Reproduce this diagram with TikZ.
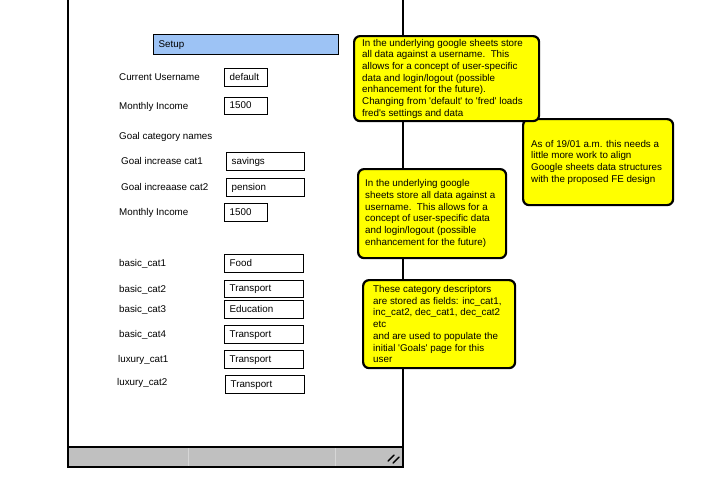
\documentclass[tikz,border=0pt]{standalone}
\usepackage{fontspec}
\setmainfont{Liberation Sans}
\usetikzlibrary{calc}
\definecolor{setupblue}{RGB}{157,195,245}
\definecolor{stickyyellow}{RGB}{255,255,0}
\definecolor{bargray}{RGB}{192,192,192}
\definecolor{seplight}{RGB}{214,214,214}
\tikzset{
  txt/.style={font=\fontsize{9.8}{11.7}\selectfont},
  lbl/.style={txt, anchor=west, inner sep=0pt, text height=7pt, text depth=2pt},
  field/.style={txt, draw=black, line width=1.3pt, fill=white, anchor=north west,
    inner xsep=5pt, inner ysep=0pt, align=left, text height=7pt, text depth=2pt},
  notebox/.style={draw=black, line width=2.2pt, fill=stickyyellow, rounded corners=6pt,
    anchor=north west, inner sep=0pt},
  notetext/.style={txt, anchor=west, inner sep=0pt, align=left},
  frame/.style={draw=black, line width=1.5pt},
}
\begin{document}
\begin{tikzpicture}[x=1pt,y=-1pt]
\useasboundingbox (0,0) rectangle (719,488);
% window
\coordinate (wtl) at (68,0);
\coordinate (wtr) at (403,0);
\coordinate (wbl) at (68,467);
\coordinate (wbr) at (403,467);
\coordinate (bartl) at (68,447);
\draw[frame] (wtl) -- (wbl);
\draw[frame] (wtr) -- (wbr);
\draw[frame, fill=bargray] (bartl) rectangle (wbr);
\coordinate (s1t) at (188,448);
\coordinate (s1b) at (188,466);
\coordinate (s2t) at (335,448);
\coordinate (s2b) at (335,466);
\draw[seplight, line width=0.6pt] (s1t) -- (s1b);
\draw[seplight, line width=0.6pt] (s2t) -- (s2b);
\coordinate (g1a) at (388,461); \coordinate (g1b) at (394,455);
\coordinate (g2a) at (393,463); \coordinate (g2b) at (399,457);
\draw[line width=1.4pt, line cap=round] (g1a) -- (g1b);
\draw[line width=1.4pt, line cap=round] (g2a) -- (g2b);

% setup bar
\node[field, fill=setupblue, line width=1.2pt, minimum width=185pt, text width=175pt, minimum height=20pt] (setup) at (153,34) {Setup};

% labels
\node[lbl] (l1) at (119,77.5) {Current Username};
\node[lbl] (l2) at (119,106.5) {Monthly Income};
\node[lbl] (l3) at (119,136.5) {Goal category names};
\node[lbl] (l4) at (121,161.5) {Goal increase cat1};
\node[lbl] (l5) at (121,187.5) {Goal increaase cat2};
\node[lbl] (l6) at (119,212.5) {Monthly Income};
\node[lbl] (l7) at (119,263.5) {basic\_cat1};
\node[lbl] (l8) at (119,289.5) {basic\_cat2};
\node[lbl] (l9) at (119,309.5) {basic\_cat3};
\node[lbl] (l10) at (119,334.5) {basic\_cat4};
\node[lbl] (l11) at (118,359.5) {luxury\_cat1};
\node[lbl] (l12) at (117,382.5) {luxury\_cat2};

% fields
\node[field, minimum width=43pt, text width=33pt, minimum height=18pt] (f1) at (224,68) {default};
\node[field, minimum width=43pt, text width=33pt, minimum height=17pt] (f2) at (224,97) {1500};
\node[field, minimum width=78pt, text width=68pt, minimum height=18pt] (f3) at (226,152) {savings};
\node[field, minimum width=78pt, text width=68pt, minimum height=18pt] (f4) at (226,178) {pension};
\node[field, minimum width=43pt, text width=33pt, minimum height=18pt] (f5) at (224,203) {1500};
\node[field, minimum width=79pt, text width=69pt, minimum height=18pt] (f6) at (224,254) {Food};
\node[field, minimum width=79pt, text width=69pt, minimum height=17pt] (f7) at (224,280) {Transport};
\node[field, minimum width=79pt, text width=69pt, minimum height=18pt] (f8) at (224,300) {Education};
\node[field, minimum width=79pt, text width=69pt, minimum height=18pt] (f9) at (224,325) {Transport};
\node[field, minimum width=79pt, text width=69pt, minimum height=18pt] (f10) at (224,350) {Transport};
\node[field, minimum width=79pt, text width=69pt, minimum height=18pt] (f11) at (225,375) {Transport};

% sticky notes
\node[notebox, minimum width=150pt, minimum height=86pt] (n2) at (522,118) {};
\node[notetext] (t2) at ($(n2.west)+(9,0)$) {As of 19/01 a.m. this needs a\\little more work to align\\Google sheets data structures\\with the proposed FE design};

\node[notebox, minimum width=185pt, minimum height=85pt] (n1) at (353,35) {};
\node[notetext] (t1) at ($(n1.west)+(9,0)$) {In the underlying google sheets store\\all data against a username.\ \ This\\allows for a concept of user-specific\\data and login/logout (possible\\enhancement for the future).\\Changing from \textquotesingle default\textquotesingle\ to \textquotesingle fred\textquotesingle\ loads\\fred\textquotesingle s settings and data};

\node[notebox, minimum width=148pt, minimum height=89pt] (n3) at (357,168) {};
\node[notetext] (t3) at ($(n3.west)+(8,0)$) {In the underlying google\\sheets store all data against a\\username.\ \ This allows for a\\concept of user-specific data\\and login/logout (possible\\enhancement for the future)};

\node[notebox, minimum width=152pt, minimum height=88pt] (n4) at (362,279) {};
\node[notetext] (t4) at ($(n4.west)+(11,0)$) {These category descriptors\\are stored as fields: inc\_cat1,\\inc\_cat2, dec\_cat1, dec\_cat2\\etc\\and are used to populate the\\initial \textquotesingle Goals\textquotesingle\ page for this\\user};
\end{tikzpicture}
\end{document}
